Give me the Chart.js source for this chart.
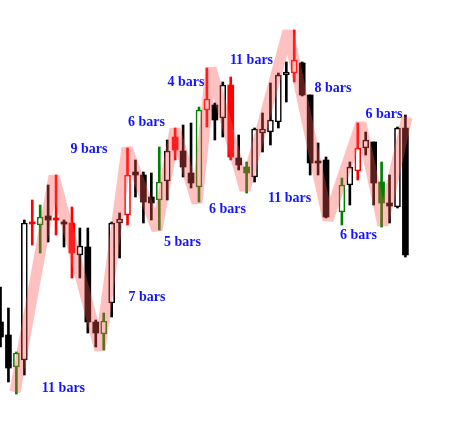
<!DOCTYPE html>
<html>
<head>
<meta charset="utf-8">
<script src="https://cdn.jsdelivr.net/npm/chart.js@4"></script>
<style>
html,body{margin:0;padding:0;background:#fff;}
#c{display:block;}
</style>
</head>
<body>
<canvas id="c" width="454" height="430"></canvas>
<script>
// Candle data (bar index, OHLC, colour, hollow = bullish)
const barIndex = [0,1,2,3,4,5,6,7,8,9,10,11,12,13,14,15,16,17,18,19,20,21,22,23,24,25,26,27,28,29,30,31,32,33,34,35,36,37,38,39,40,41,43,44,45,46,47,48,49,50,51];
const opens  = [108,95,63,70,208,205,214,212,208,207,175,183,108,96,127,207,215,258,255,233,230,249,293,279,257,243,320,325,312,345,272,263,253,297,298,308,355,357,367,335,269,270,218,245,259,282,288,248,227,223,302];
const highs  = [143,122,78,210,230,225,245,255,210,223,202,202,110,117,208,217,282,270,258,257,283,290,302,305,307,323,362,327,348,353,295,268,302,317,347,357,368,400,368,335,287,273,252,268,307,298,288,268,255,303,315];
const lows   = [83,48,36,55,185,177,188,195,183,152,152,97,83,80,113,172,205,233,207,210,200,230,270,253,242,228,303,290,293,270,260,237,248,278,285,302,328,348,334,255,255,212,205,225,250,275,225,203,207,222,173];
const closes = [93,62,77,207,206,213,210,210,206,177,184,108,97,109,207,211,255,255,228,227,248,279,280,263,247,320,331,310,345,273,265,257,301,301,310,355,358,370,335,267,267,213,245,263,282,290,247,227,224,302,175];
const colours = ['k','k','g','k','r','g','k','r','k','r','k','k','k','g','k','k','r','k','k','k','g','k','r','k','k','g','r','k','k','r','k','g','k','k','k','k','k','r','k','k','k','k','g','k','r','k','k','g','k','k','k'];
const hollow = [0,0,1,1,0,1,0,0,0,0,1,0,0,1,1,1,1,0,0,0,1,1,0,0,0,1,1,0,1,0,0,0,1,1,1,1,1,1,0,0,0,0,1,1,1,1,0,0,0,1,0];

// Zigzag pivots
const zigX = [1.83,6.74,12.53,15.93,19.71,21.98,24.75,26.51,30.79,36.21,41.25,45.40,48.17,51.2];
const zigY = [38,254,80,282,200,301,227,362,240,399,210,307,205,313];

// Bar-count labels
const labelText = ['11 bars','9 bars','7 bars','6 bars','5 bars','4 bars','6 bars','11 bars','11 bars','8 bars','6 bars','6 bars'];
const labelX = [7.93,11.15,18.45,18.39,22.92,23.36,28.59,31.61,36.4,41.88,45.09,48.3];
const labelY = [42,281,133,308,188,348,221,370,232,342,195,316];

const colourMap = {k:'#000000', r:'#ff0000', g:'#008000'};
const col = colours.map(c => colourMap[c]);

const wickData = barIndex.map((x,i) => ({x:x, y:[lows[i], highs[i]]}));
const bodyData = barIndex.map((x,i) => {
  let a = opens[i], b = closes[i];
  if (Math.abs(a-b) < 2) { b = a - 2; }
  return {x:x, y:[a, b]};
});

const labelPlugin = {
  id:'barLabels',
  afterDatasetsDraw(chart){
    const ctx = chart.ctx, xs = chart.scales.x, ys = chart.scales.y;
    ctx.save();
    ctx.font = 'bold 14px "Liberation Serif", "DejaVu Serif", serif';
    ctx.fillStyle = '#1414ff';
    ctx.textAlign = 'center';
    ctx.textBaseline = 'middle';
    labelText.forEach((t,i) => {
      ctx.fillText(t, xs.getPixelForValue(labelX[i]), ys.getPixelForValue(labelY[i]));
    });
    ctx.restore();
  }
};

new Chart(document.getElementById('c'), {
  type:'bar',
  data:{
    datasets:[
      {
        type:'bar', data:wickData, order:3, grouped:false,
        backgroundColor:col, borderWidth:0, barThickness:2
      },
      {
        type:'bar', data:bodyData, order:2, grouped:false,
        backgroundColor: col.map((c,i) => hollow[i] ? '#ffffff' : c),
        borderColor: col,
        borderWidth: hollow.map(h => h ? 1.6 : 0),
        borderSkipped:false,
        barThickness:6
      },
      {
        type:'line', order:1,
        data: zigX.map((x,i) => ({x:x, y:zigY[i]})),
        borderColor:'rgba(255,80,80,0.36)',
        borderWidth:11,
        borderJoinStyle:'bevel',
        borderCapStyle:'butt',
        pointRadius:0, tension:0, fill:false
      }
    ]
  },
  options:{
    responsive:false,
    animation:false,
    events:[],
    layout:{padding:0},
    plugins:{legend:{display:false}, tooltip:{enabled:false}},
    scales:{
      x:{type:'linear', min:-0.063, max:57.12, offset:false, display:false},
      y:{type:'linear', min:0, max:430, display:false}
    }
  },
  plugins:[labelPlugin]
});
</script>
</body>
</html>
